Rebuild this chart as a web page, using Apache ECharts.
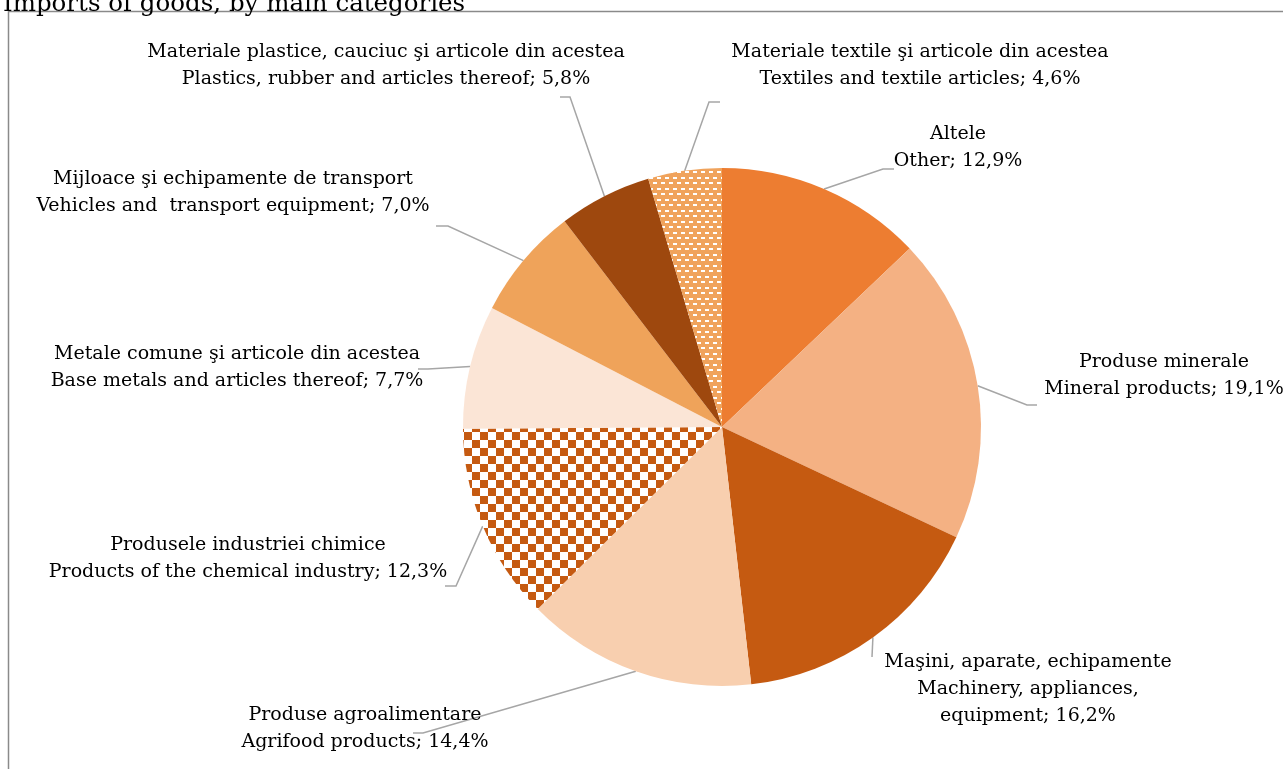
<!DOCTYPE html>
<html>
<head>
<meta charset="utf-8">
<script src="https://cdn.jsdelivr.net/npm/echarts@6/dist/echarts.min.js"></script>
<style>
  html, body { margin: 0; padding: 0; background: #fff; }
  #chart { width: 1283px; height: 769px; }
</style>
</head>
<body>
<div id="chart"></div>
<script>
// data
const categories = [
  'Altele\nOther',
  'Produse minerale\nMineral products',
  'Maşini, aparate, echipamente\nMachinery, appliances,\nequipment',
  'Produse agroalimentare\nAgrifood products',
  'Produsele industriei chimice\nProducts of the chemical industry',
  'Metale comune şi articole din acestea\nBase metals and articles thereof',
  'Mijloace şi echipamente de transport\nVehicles and  transport equipment',
  'Materiale plastice, cauciuc şi articole din acestea\nPlastics, rubber and articles thereof',
  'Materiale textile şi articole din acestea\nTextiles and textile articles'
]
const shares = [12.9, 19.1, 16.2, 14.4, 12.3, 7.7, 7.0, 5.8, 4.6]

// label placement (center of text block) and leader line elbows
const labelPos = [
  { x: 958, y: 148, line: [[883, 169], [894, 169]] },
  { x: 1164, y: 376, line: [[1027, 405], [1037, 405]] },
  { x: 1028, y: 689, line: [[872, 657]] },
  { x: 365, y: 729, line: [[423, 733], [413, 733]] },
  { x: 248, y: 559, line: [[456, 586], [445, 586]] },
  { x: 237, y: 368, line: [[428, 369], [418, 369]] },
  { x: 233, y: 193, line: [[448, 226], [436, 226]] },
  { x: 386, y: 66, line: [[570, 97], [560, 97]] },
  { x: 920, y: 66, line: [[709, 102], [720, 102]] }
]

// fill patterns
const makeChecker = () => {
  const c = document.createElement('canvas')
  c.width = 16; c.height = 16
  const ctx = c.getContext('2d')
  ctx.fillStyle = '#ffffff'
  ctx.fillRect(0, 0, 16, 16)
  ctx.fillStyle = '#C55A11'
  ctx.fillRect(0, 0, 8, 8)
  ctx.fillRect(8, 8, 8, 8)
  return c
}
const makeDashes = () => {
  const c = document.createElement('canvas')
  c.width = 8; c.height = 11
  const ctx = c.getContext('2d')
  ctx.fillStyle = '#F0A35C'
  ctx.fillRect(0, 0, 8, 11)
  ctx.fillStyle = '#ffffff'
  ctx.fillRect(1, 1, 4, 2)
  ctx.fillRect(5, 6, 3, 2)
  ctx.fillRect(0, 6, 1, 2)
  return c
}

const colors = [
  '#ED7D31',
  '#F4B183',
  '#C55A11',
  '#F8CFAF',
  { image: makeChecker(), repeat: 'repeat' },
  '#FBE5D6',
  '#EFA35A',
  '#9E480E',
  { image: makeDashes(), repeat: 'repeat' }
]

const fmt = v => v.toFixed(1).replace('.', ',')

const chart = echarts.init(document.getElementById('chart'))
chart.setOption({
  backgroundColor: '#ffffff',
  animation: false,
  title: {
    text: 'Imports of goods, by main categories',
    left: -2,
    top: -13,
    textStyle: { fontFamily: 'DejaVu Serif', fontSize: 24.5, fontWeight: 'normal', color: '#000' }
  },
  graphic: [{
    type: 'rect',
    shape: { x: 8.5, y: 11.5, width: 1400, height: 900 },
    style: { fill: 'none', stroke: '#8a8a8a', lineWidth: 1.5 },
    z: -1
  }],
  series: [{
    type: 'pie',
    center: [722, 427],
    radius: 259,
    startAngle: 90,
    clockwise: true,
    avoidLabelOverlap: false,
    data: categories.map((name, i) => ({
      name,
      value: shares[i],
      itemStyle: { color: colors[i] }
    })),
    label: {
      show: true,
      position: 'outside',
      formatter: p => p.name + '; ' + fmt(p.value) + '%',
      fontFamily: 'DejaVu Serif',
      fontSize: 19,
      lineHeight: 27,
      color: '#000',
      align: 'center'
    },
    labelLine: {
      show: true,
      lineStyle: { color: '#A6A6A6', width: 1.5 }
    },
    labelLayout: params => {
      const lp = labelPos[params.dataIndex]
      const start = params.labelLinePoints ? params.labelLinePoints[0] : null
      return {
        x: lp.x,
        y: lp.y,
        align: 'center',
        verticalAlign: 'middle',
        labelLinePoints: start ? [start].concat(lp.line.length === 1 ? [lp.line[0], lp.line[0]] : lp.line) : undefined
      }
    },
    emphasis: { disabled: true }
  }]
})
</script>
</body>
</html>
